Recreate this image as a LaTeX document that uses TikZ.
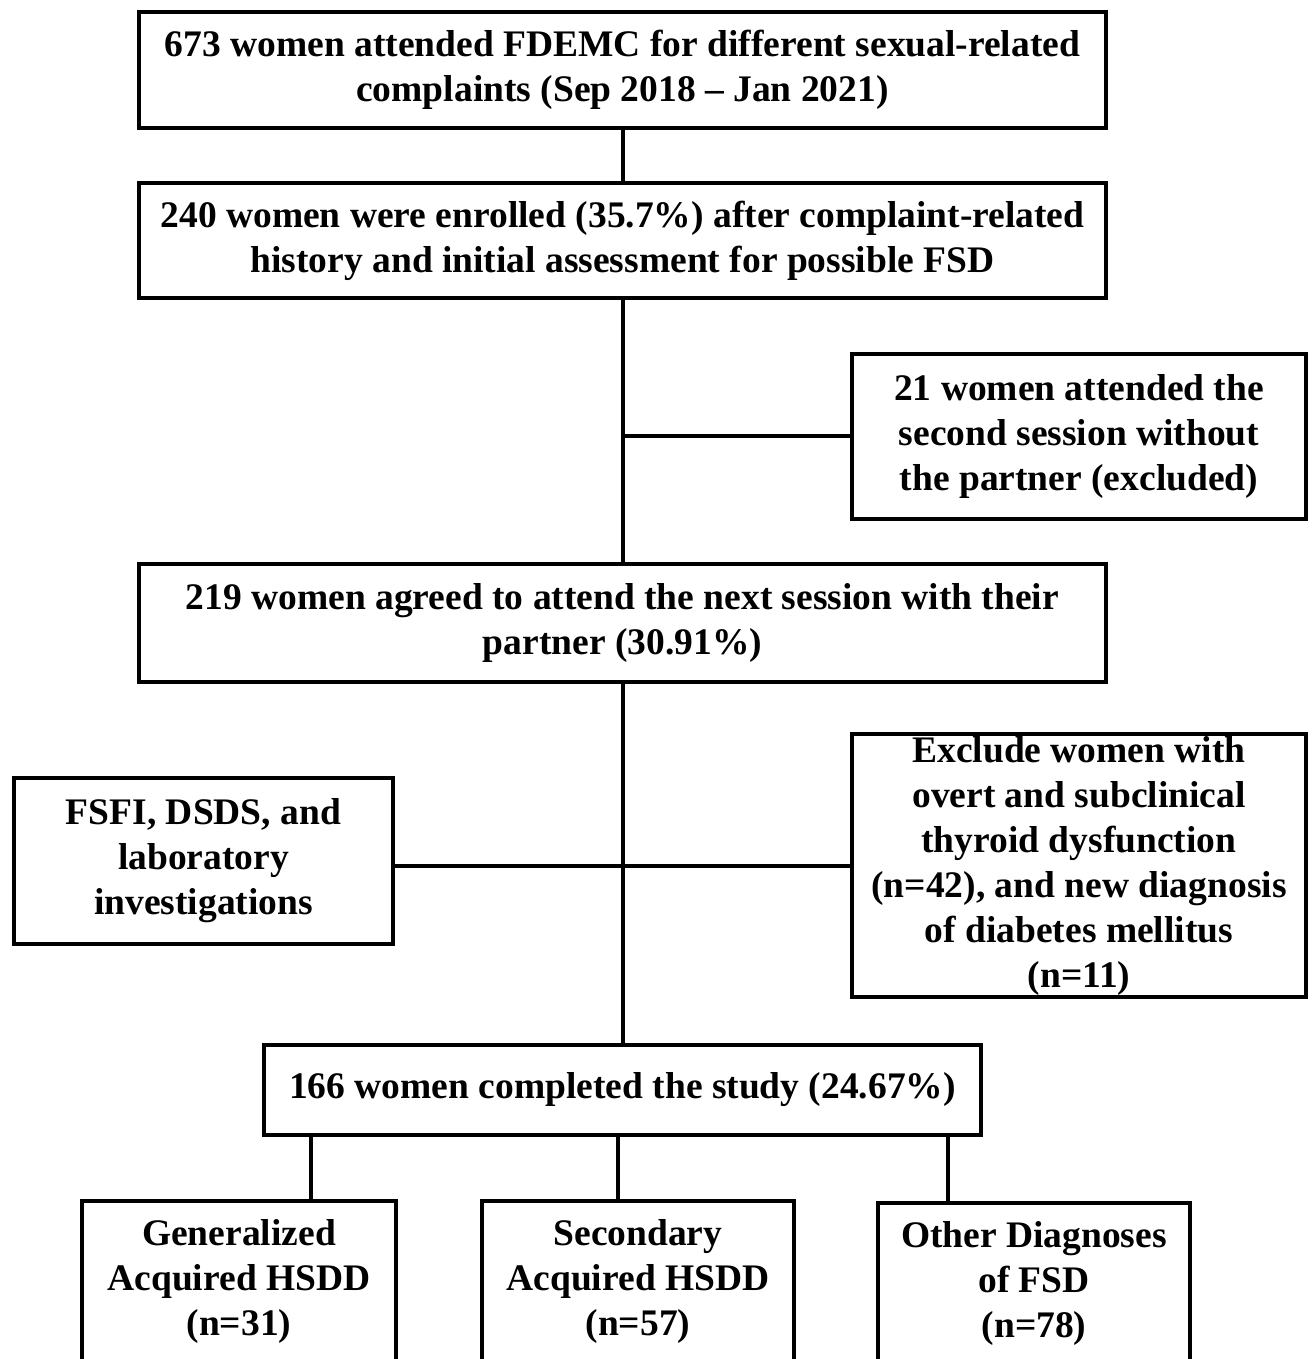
\documentclass[tikz,border=0pt]{standalone}
\usepackage{fontspec}
\setmainfont{Liberation Serif}
\begin{document}
\begin{tikzpicture}[x=1pt,y=-1pt,
  box/.style={draw, line width=4pt, align=center, inner sep=0pt,
    font=\fontsize{37.5}{45}\selectfont\bfseries},
  link/.style={line width=4pt}]
\useasboundingbox (0,0) rectangle (1315,1359);
\clip (0,0) rectangle (1315,1359);
\node[box, minimum width=967pt, minimum height=116pt] (b1) at (622.5,70)
  {673 women attended FDEMC for different sexual-related\\complaints (Sep 2018 -- Jan 2021)};
\node[box, minimum width=967pt, minimum height=115pt] (b2) at (622.5,240.5)
  {240 women were enrolled (35.7\%) after complaint-related\\history and initial assessment for possible FSD};
\node[box, minimum width=454pt, minimum height=165pt] (b3) at (1079,436.5)
  {21 women attended the\\second session without\\the partner (excluded)};
\node[box, minimum width=967pt, minimum height=118pt] (b4) at (622.5,623)
  {219 women agreed to attend the next session with their\\partner (30.91\%)};
\node[box, minimum width=379pt, minimum height=166pt] (b5) at (203.5,861)
  {FSFI, DSDS, and\\laboratory\\investigations};
\node[box, minimum width=454pt, minimum height=263pt] (b6) at (1079,865.5)
  {Exclude women with\\overt and subclinical\\thyroid dysfunction\\(n=42), and new diagnosis\\of diabetes mellitus\\(n=11)};
\node[box, minimum width=717pt, minimum height=90pt] (b7) at (622.5,1090)
  {166 women completed the study (24.67\%)};
\node[box, minimum width=314pt, minimum height=160pt] (b8) at (239,1281)
  {Generalized\\Acquired HSDD\\(n=31)};
\node[box, minimum width=312pt, minimum height=160pt] (b9) at (638,1281)
  {Secondary\\Acquired HSDD\\(n=57)};
\node[box, minimum width=312pt, minimum height=160pt] (b10) at (1034,1283)
  {Other Diagnoses\\of FSD\\(n=78)};
\coordinate (j1) at (622.5,436);
\coordinate (j2) at (622.5,866);
\coordinate (t1) at (311,1137);
\coordinate (t2) at (618,1137);
\coordinate (t3) at (948,1137);
\draw[link] (b1.south) -- (b2.north);
\draw[link] (b2.south) -- (b4.north);
\draw[link] (j1) -- (j1 -| b3.west);
\draw[link] (b4.south) -- (b7.north);
\draw[link] (j2 -| b5.east) -- (j2 -| b6.west);
\draw[link] (t1 |- b7.south) -- (t1 |- b8.north);
\draw[link] (t2 |- b7.south) -- (t2 |- b9.north);
\draw[link] (t3 |- b7.south) -- (t3 |- b10.north);
\end{tikzpicture}
\end{document}
